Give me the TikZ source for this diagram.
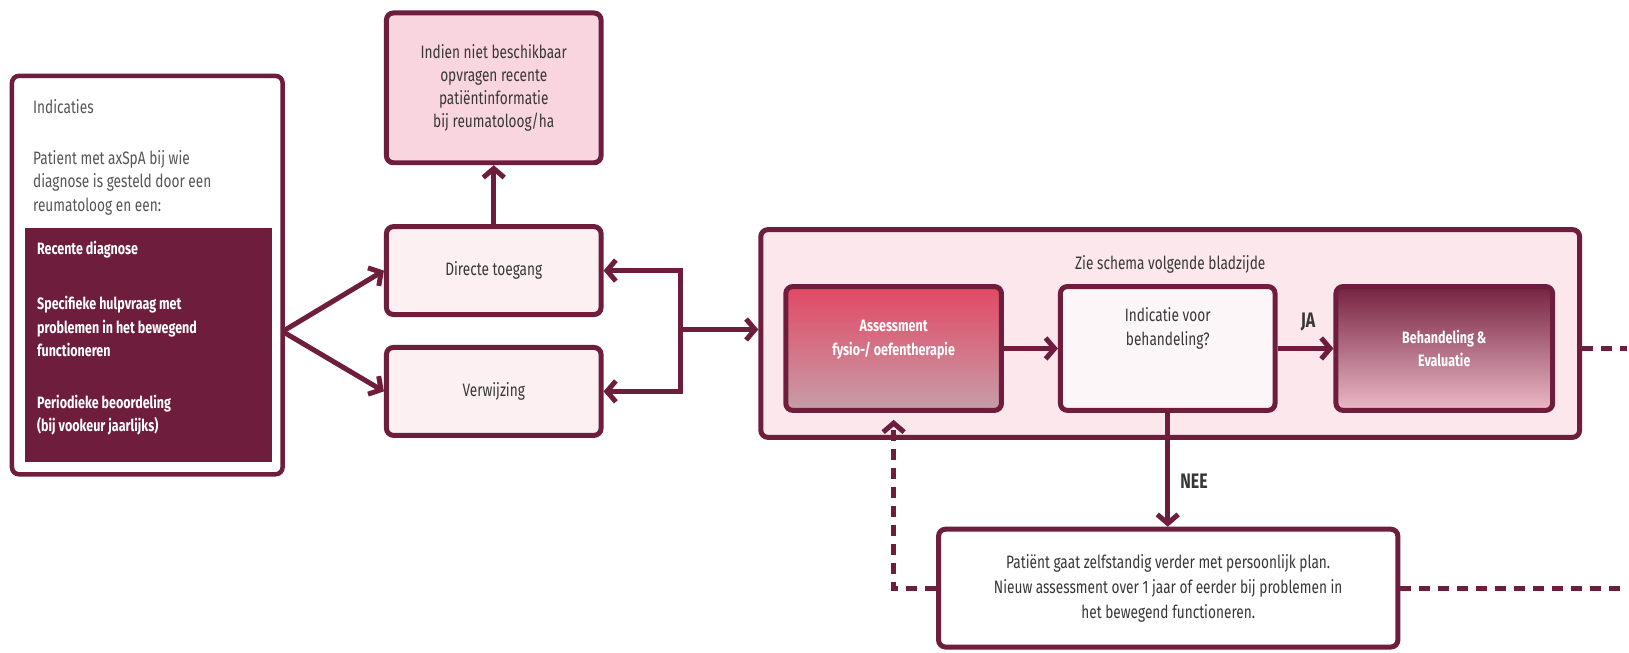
\documentclass[tikz,border=0pt]{standalone}
\usepackage{fontspec}
\setmainfont{Fira Sans}[FakeStretch=0.76]
\usetikzlibrary{arrows.meta,positioning}

\definecolor{maroon}{RGB}{110,30,60}
\definecolor{pinkA}{RGB}{249,214,223}
\definecolor{pinkB}{RGB}{252,240,243}
\definecolor{pinkC}{RGB}{251,231,236}
\definecolor{ivory}{RGB}{253,246,248}
\definecolor{asstop}{RGB}{226,72,100}
\definecolor{assbot}{RGB}{198,158,168}
\definecolor{behtop}{RGB}{118,34,64}
\definecolor{behbot}{RGB}{236,186,200}
\definecolor{txt}{RGB}{55,55,55}
\definecolor{txtgrey}{RGB}{85,85,85}

\newcommand{\bodyfont}{\fontsize{18}{24}\selectfont}
\newcommand{\heavyfont}{\fontsize{16.5}{23.5}\selectfont\bfseries}

\tikzset{
  box/.style={draw=maroon,line width=5pt,rounded corners=7pt,align=center,
    text=txt,font=\bodyfont},
  plain/.style={align=center,text=txt,font=\bodyfont,inner sep=0pt},
  whitetext/.style={align=center,text=white,font=\heavyfont,inner sep=0pt},
  tag/.style={text=txt,font=\fontsize{21}{24}\selectfont\bfseries,inner sep=0pt},
  arr/.style={draw=maroon,line width=5pt,-{Straight Barb[length=9pt,width=21pt]}},
  dsh/.style={draw=maroon,line width=5pt,dash pattern=on 11pt off 8pt}
}

\begin{document}
\begin{tikzpicture}[x=1pt,y=-1pt]
\fill[white] (0,0) rectangle (1629,653);
% indications
\node[box,fill=white,line width=4.5pt,minimum width=271pt,minimum height=399pt] (indic) at (147.5,275.5) {};
\node[fill=maroon,minimum width=247pt,minimum height=235pt] (crit) at (148.5,345.5) {};
\node[plain,anchor=west,text=txtgrey] (indic-t) at (33,107) {Indicaties};
\node[plain,anchor=west,align=left,text=txtgrey,font=\fontsize{18}{23.5}\selectfont] (indic-d) at (33,183)
  {Patient met axSpA bij wie\\diagnose is gesteld door een\\reumatoloog en een:};
\node[whitetext,anchor=west,align=left] (crit-1) at (37,250) {Recente diagnose};
\node[whitetext,anchor=west,align=left] (crit-2) at (37,327)
  {Specifieke hulpvraag met\\problemen in het bewegend\\functioneren};
\node[whitetext,anchor=west,align=left] (crit-3) at (37,416)
  {Periodieke beoordeling\\(bij vookeur jaarlijks)};
% access
\node[box,fill=pinkA,minimum width=215pt,minimum height=150pt,
  font=\fontsize{18}{23}\selectfont] (info) at (494.5,88)
  {Indien niet beschikbaar\\opvragen recente\\patiëntinformatie\\bij reumatoloog/ha};
\node[box,fill=pinkB,minimum width=215pt,minimum height=88pt] (dt) at (494.5,271) {Directe toegang};
\node[box,fill=pinkB,minimum width=215pt,minimum height=88pt] (vw) at (494.5,392) {Verwijzing};
\coordinate (fork) at (283,332);
\draw[arr] (fork) -- (dt.west);
\draw[arr] (fork) -- (vw.west);
\draw[arr] (dt.north) -- (info.south);
% scheme
\node[box,fill=pinkC,minimum width=820pt,minimum height=208pt] (cont) at (1172,334) {};
\node[plain] (cont-t) at (1172,265) {Zie schema volgende bladzijde};
\node[box,top color=asstop,bottom color=assbot,minimum width=216pt,minimum height=124pt] (ass) at (895,349) {};
\node[whitetext] (ass-t) at ([yshift=9pt]ass.center) {Assessment\\fysio-/ oefentherapie};
\node[box,fill=ivory,minimum width=215pt,minimum height=124pt] (ind) at (1169.5,349) {};
\node[plain] (ind-t) at ([yshift=20pt]ind.center) {Indicatie voor\\behandeling?};
\node[box,top color=behtop,bottom color=behbot,minimum width=217pt,minimum height=124pt,
  text=white,font=\heavyfont] (beh) at (1446.5,349) {Behandeling \&\\Evaluatie};
\coordinate (brk) at (682,330);
\draw[arr] (brk) -- (cont.west |- brk);
\draw[arr] (brk) |- (dt.east);
\draw[arr] (brk) |- (vw.east);
\draw[arr] (ass) -- (ind);
\draw[arr] (ind) -- (beh);
\node[tag] (ja) at (1310,322) {JA};
% no treatment
\node[box,fill=white,minimum width=460pt,minimum height=118pt,
  font=\fontsize{18}{25}\selectfont] (pat) at (1170,589)
  {Patiënt gaat zelfstandig verder met persoonlijk plan.\\Nieuw assessment over 1 jaar of eerder bij problemen in\\het bewegend functioneren.};
\draw[arr] (ind.south) -- (ind.south |- pat.north);
\node[tag,anchor=west] (nee) at (1182,482) {NEE};
\coordinate (ass-in) at ([yshift=-7pt]ass.south);
\draw[dsh,-{Straight Barb[length=9pt,width=21pt]}] (pat.west) -| (ass-in);
\coordinate (edge) at (1629,349);
\draw[dsh] (cont.east |- beh) -- (edge);
\draw[dsh] (pat.east) -- (pat.east -| edge);
\end{tikzpicture}
\end{document}
